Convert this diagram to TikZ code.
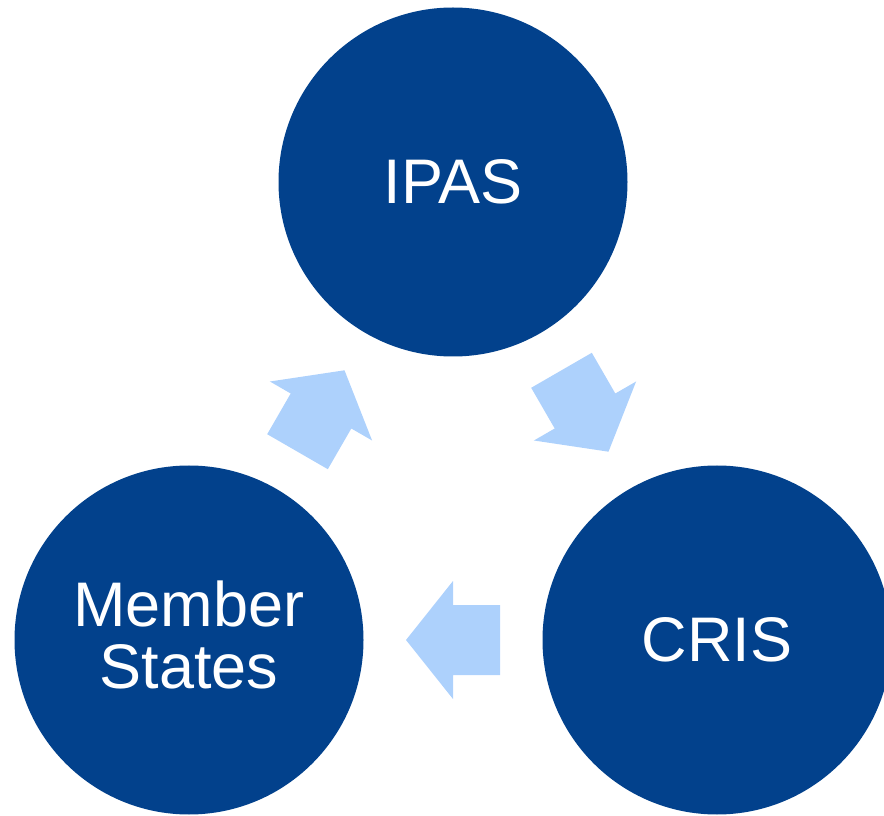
\documentclass[tikz,border=0pt]{standalone}
\usepackage{fontspec}
\setmainfont{Liberation Sans}
\usetikzlibrary{calc}
\definecolor{stageblue}{HTML}{02418C}
\definecolor{arrowblue}{HTML}{ADD1FC}

\begin{document}
\begin{tikzpicture}[x=1pt,y=1pt,
		stage/.style={circle,fill=stageblue,text=white,minimum size=349pt,inner sep=0pt,align=center,font=\fontsize{63}{62}\selectfont},
		cyclearrow/.style={fill=arrowblue}]
		\useasboundingbox (0,0) rectangle (884,815);
		\node[stage] (ipas) at (453,633) {IPAS};
		\node[stage] (cris) at (717,175) {CRIS};
		\node[stage,text depth=10pt] (ms) at (189,175) {Member\\States};
		% block arrows half way between the circles
		\coordinate (toCris) at ($(ipas)!0.5!(cris)$);
		\coordinate (toMs) at ($(cris)!0.5!(ms)$);
		\coordinate (toIpas) at ($(ms)!0.5!(ipas)$);
		\fill[cyclearrow,shift={(toCris)},rotate=-60] (47,0) -- (0,59) -- (0,35) -- (-47,35) -- (-47,-35) -- (0,-35) -- (0,-59) -- cycle;
		\fill[cyclearrow,shift={(toMs)},rotate=180] (47,0) -- (0,59) -- (0,35) -- (-47,35) -- (-47,-35) -- (0,-35) -- (0,-59) -- cycle;
		\fill[cyclearrow,shift={(toIpas)},rotate=60] (47,0) -- (0,59) -- (0,35) -- (-47,35) -- (-47,-35) -- (0,-35) -- (0,-59) -- cycle;
	\end{tikzpicture}
\end{document}
